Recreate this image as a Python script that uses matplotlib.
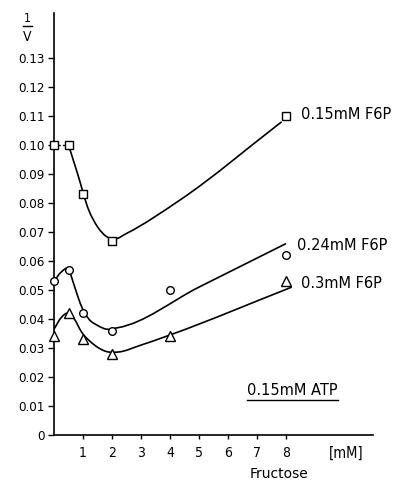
import numpy as np
import matplotlib
matplotlib.use('Agg')
import matplotlib.pyplot as plt
from matplotlib.path import Path
from matplotlib.patches import PathPatch
from matplotlib.lines import Line2D

plt.rcParams['font.family'] = ['DejaVu Sans']
plt.rcParams['font.stretch'] = 'condensed'

# measured points (fructose mM, 1/v)
fru = [0, 0.5, 1, 2, 4, 8]
sq_x = [0, 0.5, 1, 2, 8]
sq_y = [0.100, 0.100, 0.083, 0.067, 0.110]
ci_y = [0.053, 0.057, 0.042, 0.036, 0.050, 0.062]
tr_y = [0.034, 0.042, 0.033, 0.028, 0.034, 0.053]

# hand-drawn guide curves
fit_sq_x = [0.5, 0.8, 1.2, 1.5, 1.8, 2.1, 2.5, 4.34, 7.85]
fit_sq_y = [0.100, 0.0905, 0.0775, 0.0718, 0.0685, 0.0676, 0.0695, 0.081, 0.108]
fit_ci_x = [0.0, 0.25, 0.5, 0.7, 0.9, 1.2, 1.5, 1.8, 2.2, 5.0, 8.0]
fit_ci_y = [0.053, 0.0562, 0.057, 0.0515, 0.0455, 0.0400, 0.0378, 0.0365, 0.0370, 0.051, 0.066]
fit_tr_x = [0.0, 0.25, 0.5, 0.7, 0.95, 1.3, 1.8, 2.2, 3.0, 4.0, 8.2]
fit_tr_y = [0.0365, 0.0405, 0.042, 0.040, 0.0355, 0.0318, 0.0288, 0.0286, 0.031, 0.0345, 0.051]

labels = ['0.15mM F6P', '0.24mM F6P', '0.3mM F6P']
yticks = [0, 0.01, 0.02, 0.03, 0.04, 0.05, 0.06, 0.07, 0.08, 0.09, 0.10, 0.11, 0.12, 0.13]
ytick_labels = ['0', '0.01', '0.02', '0.03', '0.04', '0.05', '0.06', '0.07',
                '0.08', '0.09', '0.10', '0.11', '0.12', '0.13']
xticks = [1, 2, 3, 4, 5, 6, 7, 8]


def smooth_path(xs, ys):
    """Cubic Hermite through knots, as Bezier segments for matplotlib."""
    xs, ys = np.asarray(xs, float), np.asarray(ys, float)
    h = np.diff(xs)
    d = np.diff(ys) / h
    m = np.empty_like(ys)
    m[0], m[-1] = d[0], d[-1]
    for i in range(1, len(xs) - 1):
        m[i] = (d[i - 1] * h[i] + d[i] * h[i - 1]) / (h[i - 1] + h[i])
    verts = [(xs[0], ys[0])]
    codes = [Path.MOVETO]
    for i in range(len(h)):
        verts += [(xs[i] + h[i] / 3, ys[i] + m[i] * h[i] / 3),
                  (xs[i + 1] - h[i] / 3, ys[i + 1] - m[i + 1] * h[i] / 3),
                  (xs[i + 1], ys[i + 1])]
        codes += [Path.CURVE4] * 3
    return Path(verts, codes)


fig = plt.figure(figsize=(3.98, 4.82), dpi=100)
ax = fig.add_axes([0.1357, 0.0975, 0.8015, 0.8755])

for fx, fy in [(fit_sq_x, fit_sq_y), (fit_ci_x, fit_ci_y), (fit_tr_x, fit_tr_y)]:
    ax.add_patch(PathPatch(smooth_path(fx, fy), fill=False, lw=1.2, color='black', zorder=2))
ax.plot(sq_x[:2], sq_y[:2], color='black', lw=1.0, ls=(0, (1.5, 1.5)), zorder=2)

mk = dict(ls='none', color='black', markerfacecolor='white', markeredgewidth=1.0,
          zorder=3, clip_on=False)
ax.plot(sq_x, sq_y, marker='s', ms=6, **mk)
ax.plot(fru, ci_y, marker='o', ms=5.5, **mk)
ax.plot(fru, tr_y, marker='^', ms=6.5, **mk)

lab_font = dict(fontsize=10.5, va='center', ha='left', fontstretch='normal')
ax.text(8.52, 0.1105, labels[0], **lab_font)
ax.text(8.38, 0.0655, labels[1], **lab_font)
ax.text(8.52, 0.0524, labels[2], **lab_font)
atp = ax.text(6.67, 0.0152, '0.15mM ATP', **lab_font)

ax.set_xlim(0, 11.0)
ax.set_ylim(0, 0.1455)
ax.set_yticks(yticks)
ax.set_yticklabels(ytick_labels)
ax.set_xticks(xticks)
ax.set_xticklabels([str(t) for t in xticks])
ax.tick_params(axis='y', direction='out', length=4, width=1, labelsize=9.5, pad=3)
ax.tick_params(axis='x', direction='out', length=3, width=1, labelsize=10, pad=5)
for s in ['top', 'right']:
    ax.spines[s].set_visible(False)
for s in ['left', 'bottom']:
    ax.spines[s].set_linewidth(1.2)

fig.text(0.869, 0.060, '[mM]', ha='center', va='center', fontsize=10.5)
fig.text(0.701, 0.002, 'Fructose', ha='center', va='bottom', fontsize=10, fontstretch='normal')
# 1/V axis title
fig.text(0.068, 0.961, '1', ha='center', va='center', fontsize=8.5)
fig.text(0.068, 0.924, 'V', ha='center', va='center', fontsize=10)
fig.add_artist(Line2D([0.057, 0.080], [0.946, 0.946], color='black', lw=1.0,
                      transform=fig.transFigure))

# underline under the ATP note
fig.canvas.draw()
bb = atp.get_window_extent().transformed(fig.transFigure.inverted())
fig.add_artist(Line2D([bb.x0, bb.x1], [bb.y0 - 0.004, bb.y0 - 0.004],
                      color='black', lw=1.0, transform=fig.transFigure))

fig.savefig('out.png', dpi=100)
